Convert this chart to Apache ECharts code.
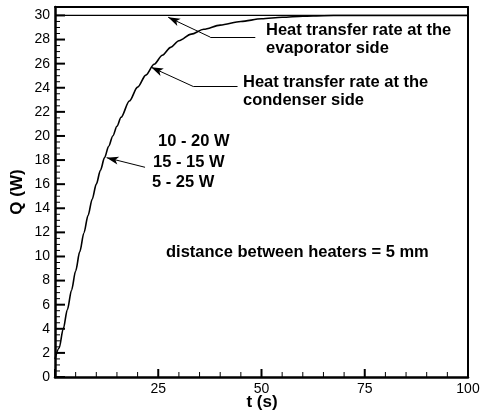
<!DOCTYPE html>
<html>
<head>
<meta charset="utf-8">
<script src="https://cdn.jsdelivr.net/npm/echarts@6/dist/echarts.min.js"></script>
<style>
  html, body { margin: 0; padding: 0; background: #fff; }
  #chart { width: 482px; height: 414px; }
</style>
</head>
<body>
<div id="chart"></div>
<script>
// Condenser-side heat transfer rate (same curve for all three heater splits)
const condenserTime = [0, 1, 2, 3, 4, 5, 6, 7, 8, 9, 10, 11, 12, 13, 14, 15, 16, 18, 20, 22, 24, 26, 28, 30, 33, 36, 40, 45, 50, 55, 60, 65, 70, 100];
const condenserQ    = [1.5, 2.4, 4.0, 5.6, 7.2, 8.8, 10.4, 11.95, 13.4, 14.75, 16.0, 17.15, 18.2, 19.15, 20.0, 20.8, 21.55, 22.9, 24.05, 25.05, 25.95, 26.7, 27.35, 27.9, 28.45, 28.85, 29.2, 29.5, 29.72, 29.85, 29.94, 29.98, 30, 30];

// Evaporator-side heat transfer rate (total heater input)
const evaporatorTime = [0, 100];
const evaporatorQ    = [30, 30];

// Axis settings
const xRange = [0, 100];
const xMajorStep = 25;
const xMinorStep = 5;
const yRange = [0, 30.7];
const yMajorStep = 2;
const yMinorStep = 0.5;
const yLabelMax = 30;
const xTitle = 't (s)';
const yTitle = 'Q (W)';

const FONT = '"Liberation Sans", Arial, Helvetica, sans-serif';

function pairs(xs, ys) { return xs.map((x, i) => [x, ys[i]]); }

// Tick positions: [value, kind]  kind 0 = t major, 1 = t minor, 2 = Q major, 3 = Q minor
function tickMarks() {
  const out = [];
  for (let v = xRange[0]; v <= xRange[1] + 1e-9; v += xMinorStep) {
    out.push([v, Math.abs(v % xMajorStep) < 1e-9 ? 0 : 1]);
  }
  for (let k = 0; k * yMinorStep <= yLabelMax + 1e-9; k++) {
    const v = k * yMinorStep;
    out.push([v, Math.abs(v % yMajorStep) < 1e-9 ? 2 : 3]);
  }
  return out;
}
const tickLen = [8, 5, 10, 5];
const tickWidth = [2, 1, 2, 1];

// Annotation arrows, in data coordinates: [tip, bend, end]
const arrowEvap = [[27.4, 29.85], [37.6, 28.2], [48.5, 28.2]];
const arrowCond = [[23.3, 25.7], [33.5, 24.1], [44.2, 24.1]];
const arrowMid  = [[12.5, 18.2], [21.8, 17.4]];

function arrowLines(pts) {
  const out = [];
  for (let i = 0; i < pts.length - 1; i++) {
    out.push([
      { coord: pts[i], symbol: i === 0 ? 'arrow' : 'none', symbolSize: i === 0 ? [6, 12] : 0 },
      { coord: pts[i + 1], symbol: 'none' }
    ]);
  }
  return out;
}

const chart = echarts.init(document.getElementById('chart'), null, { renderer: 'canvas' });

const tickLabel = { show: true, fontFamily: FONT, fontSize: 14, color: '#000', margin: 5 };
const annot = 'bold 16.5px ' + FONT;
const titleFont = 'bold 17px ' + FONT;

// plain frame line for the top and right sides of the plot box
const frameAxis = {
  type: 'value',
  axisLine: { show: true, onZero: false, lineStyle: { color: '#000', width: 2 } },
  axisTick: { show: false }, minorTick: { show: false },
  axisLabel: { show: false }, splitLine: { show: false }
};

chart.setOption({
  animation: false,
  backgroundColor: '#ffffff',
  grid: { left: 55, right: 14, top: 7, bottom: 37, show: false, outerBoundsMode: 'none' },
  xAxis: [
    {
      type: 'value', position: 'bottom', min: xRange[0], max: xRange[1], interval: xMajorStep,
      axisLine: { show: true, onZero: false, lineStyle: { color: '#000', width: 2.5 } },
      axisTick: { show: false },
      axisLabel: Object.assign({ formatter: v => (v === 0 ? '' : String(v)) }, tickLabel),
      splitLine: { show: false }
    },
    Object.assign({ position: 'top', min: xRange[0], max: xRange[1] }, frameAxis)
  ],
  yAxis: [
    {
      type: 'value', position: 'left', min: yRange[0], max: yRange[1], interval: yMajorStep,
      axisLine: { show: true, onZero: false, lineStyle: { color: '#000', width: 2.5 } },
      axisTick: { show: false },
      axisLabel: Object.assign({ formatter: v => (v > yLabelMax ? '' : String(v)) }, tickLabel),
      splitLine: { show: false }
    },
    Object.assign({ position: 'right', min: yRange[0], max: yRange[1] }, frameAxis)
  ],
  series: [
    {
      // inward tick marks on the t and Q axes
      name: 'ticks', type: 'custom', silent: true, clip: false, z: 5,
      data: tickMarks(),
      renderItem: function (params, api) {
        const v = api.value(0);
        const kind = api.value(1);
        const len = tickLen[kind];
        let p, q;
        if (kind < 2) {
          p = api.coord([v, yRange[0]]);
          q = [p[0], p[1] - len];
        } else {
          p = api.coord([xRange[0], v]);
          q = [p[0] + len, p[1]];
        }
        return {
          type: 'line',
          shape: { x1: p[0], y1: p[1], x2: q[0], y2: q[1] },
          style: { stroke: '#000', lineWidth: tickWidth[kind] }
        };
      }
    },
    {
      name: 'evaporator', type: 'line', data: pairs(evaporatorTime, evaporatorQ),
      showSymbol: false, lineStyle: { color: '#000', width: 1.2 },
      markLine: {
        silent: true, animation: false,
        lineStyle: { color: '#000', width: 1, type: 'solid' },
        label: { show: false },
        data: arrowLines(arrowEvap)
      }
    },
    {
      name: 'condenser', type: 'line', data: pairs(condenserTime, condenserQ),
      showSymbol: false, smooth: 0.3, smoothMonotone: 'x', lineStyle: { color: '#000', width: 1.6 },
      markLine: {
        silent: true, animation: false,
        lineStyle: { color: '#000', width: 1, type: 'solid' },
        label: { show: false },
        data: arrowLines(arrowCond).concat(arrowLines(arrowMid))
      }
    }
  ],
  graphic: [
    // axis titles
    { type: 'text', x: 262, y: 402, style: { text: xTitle, font: titleFont, fill: '#000', align: 'center', verticalAlign: 'middle' } },
    { type: 'text', x: 17, y: 192, rotation: Math.PI / 2, style: { text: yTitle, font: titleFont, fill: '#000', align: 'center', verticalAlign: 'middle' } },
    // annotations
    { type: 'text', left: 266, top: 21, style: { text: 'Heat transfer rate at the\nevaporator side', font: annot, fill: '#000', lineHeight: 18 } },
    { type: 'text', left: 243, top: 73, style: { text: 'Heat transfer rate at the\ncondenser side', font: annot, fill: '#000', lineHeight: 18 } },
    { type: 'text', left: 158, top: 133, style: { text: '10 - 20 W', font: annot, fill: '#000' } },
    { type: 'text', left: 153, top: 154, style: { text: '15 - 15 W', font: annot, fill: '#000' } },
    { type: 'text', left: 152, top: 174, style: { text: '5 - 25 W', font: annot, fill: '#000' } },
    { type: 'text', left: 166, top: 244, style: { text: 'distance between heaters = 5 mm', font: annot, fill: '#000' } }
  ]
});
</script>
</body>
</html>
